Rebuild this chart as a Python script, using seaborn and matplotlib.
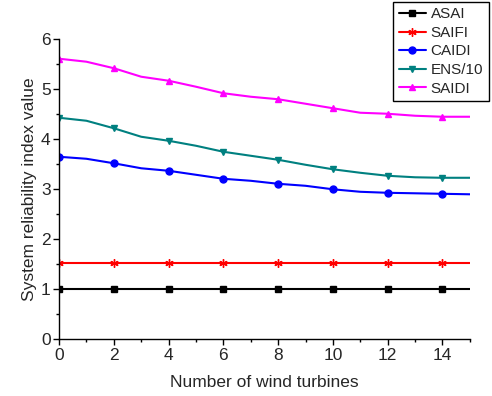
import pandas as pd
import seaborn as sns
import matplotlib.pyplot as plt
from matplotlib.ticker import MultipleLocator

# =============================
#  Data
# =============================
turbines = list(range(16))
asai = [1.0] * 16
saifi = [1.53] * 16
caidi = [3.65, 3.61, 3.52, 3.42, 3.37, 3.29, 3.21, 3.17, 3.11, 3.07, 3.00, 2.95, 2.93, 2.92, 2.91, 2.90]
ens10 = [4.43, 4.37, 4.22, 4.05, 3.97, 3.87, 3.75, 3.67, 3.59, 3.49, 3.40, 3.33, 3.27, 3.24, 3.23, 3.23]
saidi = [5.61, 5.55, 5.42, 5.25, 5.17, 5.05, 4.92, 4.85, 4.80, 4.71, 4.62, 4.53, 4.51, 4.47, 4.45, 4.45]

series_names = ["ASAI", "SAIFI", "CAIDI", "ENS/10", "SAIDI"]
series_values = [asai, saifi, caidi, ens10, saidi]
colors = ["#000000", "#FF0000", "#0000FF", "#008080", "#FF00FF"]
markers = ["s", (6, 2, 0), "o", "v", "^"]

df = pd.DataFrame({"turbines": turbines})
for name, vals in zip(series_names, series_values):
    df[name] = vals

# =============================
#  Style
# =============================
sns.set_style("ticks")
plt.rcParams["font.family"] = ["Liberation Sans", "DejaVu Sans"]
plt.rcParams["xtick.direction"] = "out"
plt.rcParams["ytick.direction"] = "out"

fig = plt.figure(figsize=(4.92, 3.96), dpi=100)
ax = fig.add_axes([0.12, 0.143, 0.835, 0.758])

# =============================
#  Lines
# =============================
for name, col, mk in zip(series_names, colors, markers):
    sns.lineplot(data=df, x="turbines", y=name, ax=ax, color=col, marker=mk,
                 markevery=2, markersize=5 if mk != markers[1] else 6,
                 markeredgecolor=col, markeredgewidth=1.0,
                 linewidth=1.5, label=name)

ax.set_xlim(0, 15)
ax.set_ylim(0, 6)
ax.xaxis.set_major_locator(MultipleLocator(2))
ax.xaxis.set_minor_locator(MultipleLocator(1))
ax.yaxis.set_major_locator(MultipleLocator(1))
ax.yaxis.set_minor_locator(MultipleLocator(0.5))
ax.tick_params(which="major", length=4, width=1, labelsize=12.5, color="black", pad=2)
ax.tick_params(which="minor", length=2.5, width=1, color="black")
for s in ["top", "right"]:
    ax.spines[s].set_visible(False)
for s in ["left", "bottom"]:
    ax.spines[s].set_color("black")
    ax.spines[s].set_linewidth(1)

ax.set_xlabel("Number of wind turbines", fontsize=12.5, labelpad=9)
ax.set_ylabel("System reliability index value", fontsize=12.5, labelpad=3)

leg = ax.legend(loc="upper right", bbox_to_anchor=(0.993, 0.995),
                bbox_transform=fig.transFigure, fontsize=11, frameon=True,
                fancybox=False, edgecolor="black", framealpha=1,
                handlelength=1.8, handletextpad=0.3, borderpad=0.35,
                labelspacing=0.3, borderaxespad=0)
leg.get_frame().set_linewidth(1)

plt.savefig("out.png", dpi=100)
plt.close()
